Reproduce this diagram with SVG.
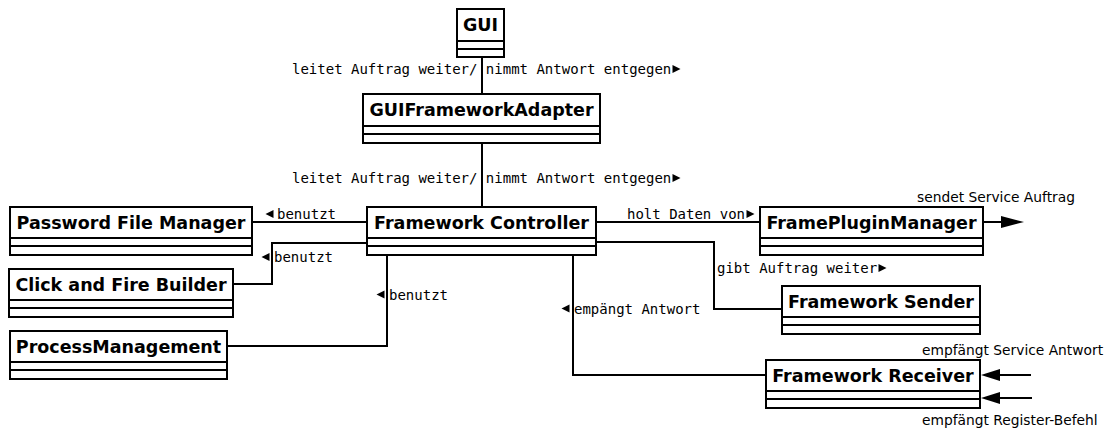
<svg xmlns="http://www.w3.org/2000/svg" width="1108" height="430" viewBox="0 0 1108 430">
  <style>
    .box { fill: #ffffff; stroke: #000000; stroke-width: 2; }
    .sep { stroke: #000000; stroke-width: 2; fill: none; }
    .title { font-family: "DejaVu Sans", "Liberation Sans", sans-serif; font-weight: bold; font-size: 17.5px; fill: #000000; text-anchor: middle; }
    .edge { stroke: #000000; stroke-width: 2; fill: none; }
    .lbl { font-family: "DejaVu Sans Mono", "Liberation Mono", monospace; font-size: 14px; fill: #000000; }
    .note { font-family: "DejaVu Sans", "Liberation Sans", sans-serif; font-size: 13.8px; fill: #000000; }
    .tri { fill: #000000; stroke: none; }
  </style>

  <rect width="1108" height="430" fill="#ffffff"/>

  <!-- connectors -->
  <g id="connectors">
    <path class="edge" d="M482,57 V94"/>
    <path class="edge" d="M482,143 V207"/>
    <path class="edge" d="M252,222 H367"/>
    <path class="edge" d="M367,243 H272 V284 H233"/>
    <path class="edge" d="M227,346 H387 V255"/>
    <path class="edge" d="M596,222 H760"/>
    <path class="edge" d="M596,242 H714 V309 H782"/>
    <path class="edge" d="M573,255 V375 H766"/>
    <!-- outgoing / incoming service arrows -->
    <path class="edge" d="M983,222 H1004"/>
    <polygon class="tri" points="1001,216 1024,222 1001,228"/>
    <path class="edge" d="M1031,375 H996"/>
    <polygon class="tri" points="981,375 1000,369 1000,381"/>
    <path class="edge" d="M1032,398 H996"/>
    <polygon class="tri" points="981,398 1000,392 1000,404"/>

    <!-- association names with direction marks -->
    <text class="lbl" x="292" y="74">leitet Auftrag weiter/ nimmt Antwort entgegen</text>
    <polygon class="tri" points="672.5,65 680.5,69 672.5,73"/>
    <text class="lbl" x="292" y="183">leitet Auftrag weiter/ nimmt Antwort entgegen</text>
    <polygon class="tri" points="672.5,174 680.5,178 672.5,182"/>

    <polygon class="tri" points="265.5,214 273.5,210 273.5,218"/>
    <text class="lbl" x="277" y="219">benutzt</text>
    <polygon class="tri" points="261.5,257 269.5,253 269.5,261"/>
    <text class="lbl" x="274" y="262">benutzt</text>
    <polygon class="tri" points="376.5,294.5 384.5,290.5 384.5,298.5"/>
    <text class="lbl" x="389" y="300">benutzt</text>
    <polygon class="tri" points="561.5,308.5 569.5,304.5 569.5,312.5"/>
    <text class="lbl" x="574" y="314">empängt Antwort</text>

    <text class="lbl" x="627" y="219">holt Daten von</text>
    <polygon class="tri" points="746.5,210 754.5,214 746.5,218"/>
    <text class="lbl" x="717" y="273">gibt Auftrag weiter</text>
    <polygon class="tri" points="878.5,264 886.5,268 878.5,272"/>

    <text class="note" x="917" y="202">sendet Service Auftrag</text>
    <text class="note" x="922" y="355">empfängt Service Antwort</text>
    <text class="note" x="922" y="425">empfängt Register-Befehl</text>
  </g>

  <!-- classes -->
  <g id="gui">
    <rect class="box" x="457" y="9" width="47" height="48"/>
    <path class="sep" d="M457,41 H504 M457,49 H504"/>
    <text class="title" x="480.5" y="30.5">GUI</text>
  </g>

  <g id="gui-framework-adapter">
    <rect class="box" x="363" y="94" width="237" height="49"/>
    <path class="sep" d="M363,126 H600 M363,134 H600"/>
    <text class="title" x="481.5" y="116">GUIFrameworkAdapter</text>
  </g>

  <g id="password-file-manager">
    <rect class="box" x="10" y="207" width="242" height="48"/>
    <path class="sep" d="M10,238 H252 M10,246 H252"/>
    <text class="title" x="131" y="229">Password File Manager</text>
  </g>

  <g id="click-and-fire-builder">
    <rect class="box" x="9" y="269" width="224" height="48"/>
    <path class="sep" d="M9,300 H233 M9,308 H233"/>
    <text class="title" x="121" y="291">Click and Fire Builder</text>
  </g>

  <g id="process-management">
    <rect class="box" x="10" y="331" width="217" height="48"/>
    <path class="sep" d="M10,362 H227 M10,370 H227"/>
    <text class="title" x="118.5" y="353">ProcessManagement</text>
  </g>

  <g id="framework-controller">
    <rect class="box" x="367" y="207" width="229" height="48"/>
    <path class="sep" d="M367,238 H596 M367,246 H596"/>
    <text class="title" x="481.5" y="229">Framework Controller</text>
  </g>

  <g id="frame-plugin-manager">
    <rect class="box" x="760" y="207" width="223" height="48"/>
    <path class="sep" d="M760,238 H983 M760,246 H983"/>
    <text class="title" x="871.5" y="229">FramePluginManager</text>
  </g>

  <g id="framework-sender">
    <rect class="box" x="782" y="286" width="198" height="48"/>
    <path class="sep" d="M782,317 H980 M782,325 H980"/>
    <text class="title" x="881" y="308">Framework Sender</text>
  </g>

  <g id="framework-receiver">
    <rect class="box" x="766" y="360" width="214" height="48"/>
    <path class="sep" d="M766,391 H980 M766,399 H980"/>
    <text class="title" x="873" y="382">Framework Receiver</text>
  </g>
</svg>
